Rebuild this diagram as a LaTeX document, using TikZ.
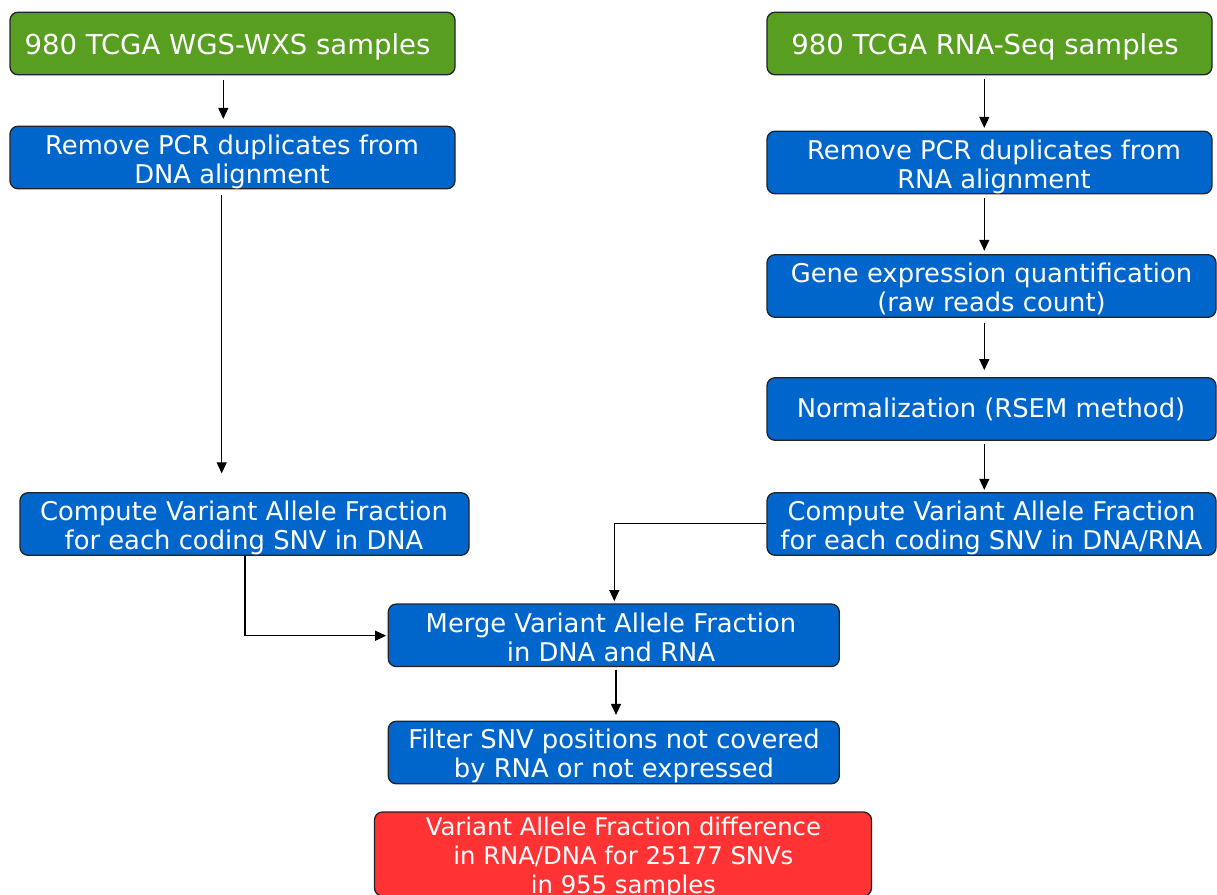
\documentclass[tikz,border=0pt]{standalone}
\usepackage{fontspec}
\setmainfont{DejaVu Sans}
\usetikzlibrary{arrows.meta}

\definecolor{inputgreen}{RGB}{88,158,32}
\definecolor{stepblue}{RGB}{0,102,204}
\definecolor{resultred}{RGB}{255,51,51}
\definecolor{boxline}{RGB}{35,35,40}

\tikzset{
  box/.style={draw=boxline, line width=1.3pt, rounded corners=8pt,
              inner sep=0pt, minimum height=62.5pt},
  inbox/.style={box, fill=inputgreen, minimum width=445pt},
  stepbox/.style={box, fill=stepblue, minimum width=#1},
  stepbox/.default=449pt,
  resbox/.style={box, fill=resultred, minimum width=497pt, minimum height=84pt},
  lbl/.style={text=white, inner sep=0pt, align=center,
              font=\fontsize{25.8}{29}\selectfont},
  biglbl/.style={lbl, font=\fontsize{27.5}{31}\selectfont},
  reslbl/.style={lbl, font=\fontsize{24.3}{29.3}\selectfont},
  arr/.style={draw=black, line width=1.1pt,
              -{Triangle[length=11pt,width=10pt]}}
}

\begin{document}
\begin{tikzpicture}[x=1pt, y=-1pt]
  \useasboundingbox (0,0) rectangle (1217,894);
  \clip (0,0) rectangle (1217,894);

  % DNA branch
  \node[inbox] (g1) at (232.5,43.5) {};
  \node[biglbl] (tg1) at (227.5,47.4) {980 TCGA WGS-WXS samples};

  \node[stepbox=445pt] (b1) at (232.5,157.5) {};
  \node[lbl] (tb1) at (232,161.7) {Remove PCR duplicates from\\DNA alignment};

  \node[stepbox] (c1) at (244.5,524) {};
  \node[lbl] (tc1) at (244,527.4) {Compute Variant Allele Fraction\\for each coding SNV in DNA};

  % RNA branch
  \node[inbox] (g2) at (989.5,43.5) {};
  \node[biglbl] (tg2) at (985,47.4) {980 TCGA RNA-Seq samples};

  \node[stepbox=445pt] (b2) at (989.5,162.5) {};
  \node[lbl] (tb2) at (994,166.7) {Remove PCR duplicates from\\RNA alignment};

  \node[stepbox] (gene) at (991.5,286) {};
  \node[lbl] (tgene) at (991.5,288.8) {Gene expression quantification\\(raw reads count)};

  \node[stepbox] (norm) at (991.5,409) {};
  \node[lbl] (tnorm) at (991,409) {Normalization (RSEM method)};

  \node[stepbox] (c2) at (991.5,524) {};
  \node[lbl] (tc2) at (991.5,527.4) {Compute Variant Allele Fraction\\for each coding SNV in DNA/RNA};

  % joint steps
  \node[stepbox=451pt] (merge) at (613.8,635.3) {};
  \node[lbl] (tmerge) at (611,637.4) {Merge Variant Allele Fraction\\in DNA and RNA};

  \node[stepbox=451pt] (filter) at (613.8,752.5) {};
  \node[lbl] (tfilter) at (614,756) {Filter SNV positions not covered\\by RNA or not expressed};

  \node[resbox] (res) at (623,854) {};
  \node[reslbl] (tres) at (623.4,857.6) {Variant Allele Fraction difference\\in RNA/DNA for 25177 SNVs\\in 955 samples};

  % connectors
  \draw[arr] ([xshift=-9.2pt,yshift=-4.3pt]g1.south) -- ([xshift=-9.2pt,yshift=6.7pt]b1.north);
  \draw[arr] ([xshift=-10.8pt,yshift=-6pt]b1.south) -- ([xshift=-22.8pt,yshift=18.7pt]c1.north);

  \draw[arr] ([xshift=-5.2pt,yshift=-4pt]g2.south) -- ([xshift=-5.2pt,yshift=2.7pt]b2.north);
  \draw[arr] ([xshift=-5.2pt,yshift=-4pt]b2.south) -- ([xshift=-7.2pt,yshift=3.3pt]gene.north);
  \draw[arr] ([xshift=-7.2pt,yshift=-4.7pt]gene.south) -- ([xshift=-7.2pt,yshift=7pt]norm.north);
  \draw[arr] ([xshift=-7.2pt,yshift=-3.3pt]norm.south) -- ([xshift=-7.2pt,yshift=2.3pt]c2.north);

  \draw[arr] ([yshift=0.7pt]c2.west) -| ([xshift=0.5pt,yshift=2.3pt]merge.north);
  \draw[arr] ([xshift=0.5pt]c1.south) |- ([xshift=-1.5pt,yshift=-0.4pt]merge.west);

  \draw[arr] ([xshift=2.2pt,yshift=-2.3pt]merge.south) -- ([xshift=2.2pt,yshift=5.7pt]filter.north);
\end{tikzpicture}
\end{document}
